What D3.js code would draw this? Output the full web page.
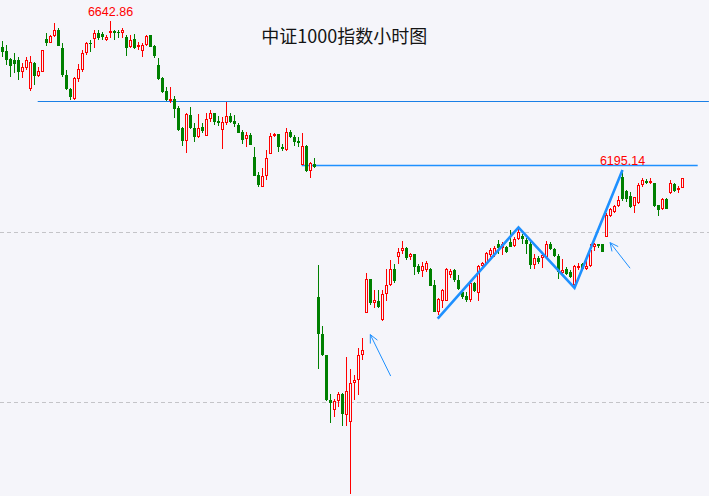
<!DOCTYPE html>
<html><head><meta charset="utf-8">
<script src="https://cdn.jsdelivr.net/npm/d3@7"></script>
<style>html,body{margin:0;padding:0;background:#f5f5fa;} svg{display:block}</style>
</head><body><svg id="c" width="709" height="496"></svg>
<script>
const title = "中证1000指数小时图";
const open = [6562,6549,6524,6521,6521,6484,6497,6431,6512,6472,6484,6586,6574,6596,6613,6557,6476,6430,6402,6461,
6490,6541,6574,6585,6603,6601,6582,6605,6611,6607,6603,6593,6560,6585,6562,6549,6567,6598,6564,6505,
6464,6426,6394,6400,6374,6311,6271,6351,6312,6284,6314,6287,6340,6356,6332,6306,6327,6348,6333,6320,
6299,6276,6289,6222,6165,6129,6162,6232,6286,6292,6253,6242,6299,6284,6271,6198,6255,6179,6201,5789,
5676,5609,5472,5441,5468,5489,5426,5403,5524,5534,5609,5740,5844,5771,5776,5717,5797,5825,5877,5913,
5931,5939,5913,5921,5885,5870,5872,5877,5825,5743,5777,5777,5858,5872,5843,5805,5791,5781,5832,5802,
5884,5892,5920,5923,5954,5939,5942,5959,5946,5967,5977,5964,5954,5887,5911,5908,5913,5954,5936,5915,
5863,5877,5865,5825,5879,5892,5875,5884,5942,5952,5952,5975,6039,6052,6069,6160,6117,6100,6069,6078,
6134,6148,6140,6141,6073,6062,6093,6109,6137,6121,6127];
const high = [6579,6567,6527,6543,6531,6511,6531,6533,6515,6500,6553,6603,6598,6634,6619,6572,6490,6433,6469,6510,
6552,6577,6582,6613,6613,6608,6598,6642.86,6615,6613,6619,6598,6598,6601,6577,6572,6598,6599,6567,6526,
6469,6438,6436,6409,6378,6314,6356,6376,6325,6354,6325,6358,6366,6358,6348,6344,6392,6356,6351,6325,
6304,6299,6296,6251,6175,6186,6242,6294,6294,6293,6263,6310,6306,6289,6284,6294,6258,6206,6217,5887,
5699,5611,5491,5475,5496,5493,5604,5566,5547,5633,5663,5863,5845,5810,5810,5812,5877,5903,5892,5940,
5962,5943,5926,5923,5892,5897,5899,5880,5841,5787,5815,5879,5877,5877,5856,5815,5805,5836,5836,5887,
5897,5928,5939,5946,5964,5959,5946,5995,5975,6005,5985,5970,5959,5923,5915,5925,5962,5959,5939,5923,
5905,5882,5872,5887,5894,5894,5903,5952,5956,5954,5954,6047,6065,6073,6100,6181,6121,6114,6099,6140,
6155,6152,6155,6142,6074,6095,6096,6150,6140,6131,6156];
const low = [6531,6505,6469,6480,6459,6465,6490,6426,6443,6469,6483,6564,6572,6593,6564,6469,6428,6397,6397,6454,
6484,6536,6546,6557,6582,6582,6580,6588,6582,6588,6589,6533,6557,6554,6552,6529,6564,6561,6526,6459,
6420,6395,6387,6342,6301,6255,6234,6309,6268,6281,6294,6286,6330,6320,6317,6245,6320,6325,6314,6294,
6261,6251,6257,6162,6129,6128,6150,6230,6284,6237,6239,6240,6279,6255,6253,6196,6175,6155,6186,5568,
5606,5469,5400,5418,5449,5390,5390,5180,5470,5485,5594,5739,5764,5756,5755,5715,5777,5823,5831,5892,
5923,5903,5903,5856,5859,5851,5866,5822,5742,5735,5756,5776,5848,5836,5810,5784,5774,5774,5805,5777,
5877,5887,5913,5913,5923,5918,5925,5942,5944,5964,5954,5923,5877,5877,5890,5879,5911,5934,5913,5844,
5856,5856,5849,5820,5872,5874,5874,5882,5931,5939,5927,5973,6036,6049,6067,6086,6083,6065,6047,6076,
6129,6137,6137,6067,6039,6059,6060,6107,6114,6111,6126];
const close = [6546,6521,6503,6508,6484,6499,6521,6514,6472,6487,6552,6572,6596,6613,6565,6474,6430,6407,6464,6492,
6541,6572,6569,6603,6588,6593,6591,6610,6605,6603,6612,6557,6582,6557,6567,6567,6595,6562,6533,6461,
6423,6397,6400,6369,6306,6271,6353,6311,6284,6311,6302,6340,6356,6330,6325,6328,6348,6330,6323,6296,
6273,6289,6258,6163,6134,6162,6217,6286,6291,6251,6246,6298,6282,6268,6265,6255,6178,6203,6191,5676,
5609,5470,5462,5468,5489,5429,5498,5525,5534,5611,5625,5844,5771,5779,5758,5798,5825,5877,5839,5928,
5939,5911,5921,5882,5866,5884,5894,5823,5743,5782,5812,5877,5869,5843,5815,5789,5779,5832,5807,5884,
5894,5925,5934,5939,5939,5952,5928,5944,5967,5989,5967,5952,5887,5910,5897,5918,5952,5936,5916,5866,
5872,5861,5851,5885,5885,5875,5884,5934,5952,5946,5928,6042,6062,6069,6088,6093,6093,6067,6098,6134,
6150,6140,6148,6069,6059,6093,6062,6140,6117,6127,6155];

const gridLevels = [5988.3, 5466.4];
const levelValues = [6392.8, 6195.14];
const levelFrom = [8.8, 74.8];
const levelTo = [176.6, 173.8];
const labelTexts = ["6642.86", "6195.14"];
const labelIndex = [27, 155];
const labelValues = [6642.86, 6195.14];
const trendIdx = [108.8, 129, 143, 155];
const trendVal = [5722, 6004, 5817, 6181];
const arrowFrom = [[97.05, 5545], [156.9, 5878]];
const arrowTo = [[91.95, 5673], [151.9, 5957]];

const W = 709, H = 496, BG = "#f5f5fa";
const RED = "#ff0000", GREEN = "#008000";
const LEVEL_COLORS = ["#1a7fe6", "#1e90ff"];
const LEVEL_WIDTHS = [1, 1.4];
const svg = d3.select("#c");
svg.append("rect").attr("width", W).attr("height", H).attr("fill", BG);

const x = d3.scaleLinear().domain([0, 170]).range([2.5, 682.5]);
const y = d3.scaleLinear().domain([6642.86, 6195.14]).range([20.5, 165.5]);
const ry = v => Math.round(y(v));

// dashed gridlines
svg.append("g").selectAll("line").data(gridLevels).join("line")
  .attr("x1", 0).attr("x2", W)
  .attr("y1", d => ry(d) + 0.5).attr("y2", d => ry(d) + 0.5)
  .attr("stroke", "#c4c4c8").attr("stroke-width", 1).attr("stroke-dasharray", "4,3");

// level lines
svg.append("g").selectAll("line").data(levelValues).join("line")
  .attr("x1", (d, i) => x(levelFrom[i])).attr("x2", (d, i) => x(levelTo[i]))
  .attr("y1", d => Math.floor(y(d)) + 0.5).attr("y2", d => Math.floor(y(d)) + 0.5)
  .attr("stroke", (d, i) => LEVEL_COLORS[i]).attr("stroke-width", (d, i) => LEVEL_WIDTHS[i]);

// candles
const data = d3.range(open.length).map(i => ({i, o: open[i], h: high[i], l: low[i], c: close[i]}));
const cg = svg.append("g").selectAll("g").data(data).join("g");
cg.append("line")
  .attr("x1", d => x(d.i)).attr("x2", d => x(d.i))
  .attr("y1", d => ry(d.h)).attr("y2", d => ry(d.l))
  .attr("stroke", d => d.c >= d.o ? RED : GREEN).attr("stroke-width", 1);
cg.each(function(d) {
  const g = d3.select(this);
  const top = ry(Math.max(d.o, d.c)), bot = ry(Math.min(d.o, d.c));
  const h = Math.max(1, bot - top);
  if (d.c >= d.o) {
    if (h >= 3) {
      g.append("rect").attr("x", x(d.i) - 1).attr("y", top + 0.5)
        .attr("width", 2).attr("height", h - 1)
        .attr("fill", BG).attr("stroke", RED).attr("stroke-width", 1);
    } else {
      g.append("rect").attr("x", x(d.i) - 1.5).attr("y", top)
        .attr("width", 3).attr("height", h).attr("fill", RED);
    }
  } else {
    g.append("rect").attr("x", x(d.i) - 1.5).attr("y", top)
      .attr("width", 3).attr("height", h).attr("fill", GREEN);
  }
});

// trend zigzag
const line = d3.line().x((d, i) => x(trendIdx[i])).y((d, i) => y(trendVal[i]));
svg.append("path").attr("d", line(trendIdx))
  .attr("fill", "none").attr("stroke", "#1e90ff").attr("stroke-width", 2.6)
  .attr("stroke-linejoin", "miter");

// arrows
arrowFrom.forEach((f, k) => {
  const t = arrowTo[k];
  const x1 = x(f[0]), y1 = y(f[1]), x2 = x(t[0]), y2 = y(t[1]);
  const ang = Math.atan2(y1 - y2, x1 - x2);
  const L = 9, a = 26 * Math.PI / 180;
  const ag = svg.append("g").attr("stroke", "#1e90ff").attr("stroke-width", 1).attr("fill", "none");
  ag.append("line").attr("x1", x1).attr("y1", y1).attr("x2", x2).attr("y2", y2);
  ag.append("path").attr("d",
    `M${x2 + L * Math.cos(ang - a)},${y2 + L * Math.sin(ang - a)}L${x2},${y2}L${x2 + L * Math.cos(ang + a)},${y2 + L * Math.sin(ang + a)}`);
});

// price labels
const labelDy = [-4.5, -0.8];
svg.append("g").selectAll("text").data(labelTexts).join("text")
  .attr("x", (d, i) => x(labelIndex[i])).attr("y", (d, i) => y(labelValues[i]) + labelDy[i])
  .attr("text-anchor", "middle").attr("fill", RED)
  .attr("font-family", "'Liberation Sans', Arial, sans-serif").attr("font-size", 12.5)
  .text(d => d);

// title
svg.append("text").attr("x", 344.3).attr("y", 43).attr("text-anchor", "middle")
  .attr("font-family", "'Noto Sans CJK SC', sans-serif").attr("font-size", 18)
  .attr("fill", "#141414").text(title);
</script>
</body></html>
